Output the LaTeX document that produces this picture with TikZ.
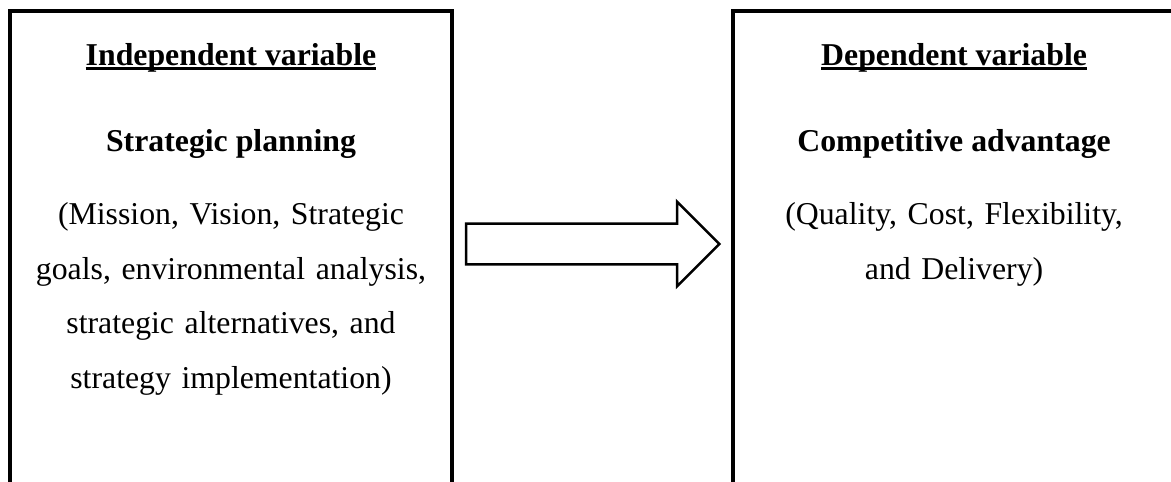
\documentclass[tikz,border=0pt]{standalone}
\usepackage{fontspec}
\setmainfont{Liberation Serif}
\frenchspacing
\usetikzlibrary{
  arrows.meta,
  positioning,
  calc,
  shapes.arrows
}
\newcommand{\varuline}[1]{%
  \setbox0\hbox{#1}%
  \rlap{\rule[-2.2pt]{\wd0}{1.5pt}}\box0}
\tikzset{
  varbox/.style={
    draw=black,
    line width=1.45pt,
    fill=white,
    minimum width=194.7pt,
    minimum height=240pt,
    inner sep=0pt,
    outer sep=0pt,
    anchor=north west
  },
  vartitle/.style={
    font=\fontsize{14}{24}\selectfont\bfseries,
    text height=10pt,
    text depth=3.5pt,
    inner sep=0pt,
    anchor=base
  },
  varhead/.style={
    font=\fontsize{14}{24}\selectfont\bfseries,
    text height=10pt,
    text depth=3.5pt,
    inner sep=0pt
  },
  vartext/.style={
    font=\fontsize{14}{24}\selectfont,
    text width=190pt,
    align=center,
    inner sep=0pt
  },
  vararrow/.style={
    single arrow,
    draw=black,
    line width=1.1pt,
    fill=white,
    minimum height=111.5pt,
    single arrow head extend=9.7pt,
    single arrow tip angle=90,
    inner xsep=0pt,
    inner ysep=8.4pt,
    anchor=tail
  }
}

\begin{document}
\begin{tikzpicture}
  \useasboundingbox (0,0) rectangle (515.8pt,-211.9pt);
  \clip (0,0) rectangle (515.8pt,-211.9pt);
  % left column
  \node[varbox] (indep) at (4.4pt,-4.85pt) {};
  \node[vartitle] (indeptitle) at ([yshift=-23.8pt]indep.north) {\varuline{Independent variable}};
  \node[varhead, below=24pt of indeptitle] (indephead) {Strategic planning};
  \node[vartext, below=18.9pt of indephead] (indeptext)
    {(Mission, Vision, Strategic\\ goals, environmental analysis,\\ strategic alternatives, and\\ strategy implementation)};
  % right column
  \node[varbox, right=123.8pt of indep] (dep) {};
  \node[vartitle] (deptitle) at ([yshift=-23.8pt]dep.north) {\varuline{Dependent variable}};
  \node[varhead, below=24pt of deptitle] (dephead) {Competitive advantage};
  \node[vartext, below=18.9pt of dephead] (deptext)
    {(Quality, Cost, Flexibility,\\ and Delivery)};
  % link
  \node[vararrow] (link) at ([xshift=5.7pt,yshift=-102.65pt]indep.north east) {};
\end{tikzpicture}
\end{document}
